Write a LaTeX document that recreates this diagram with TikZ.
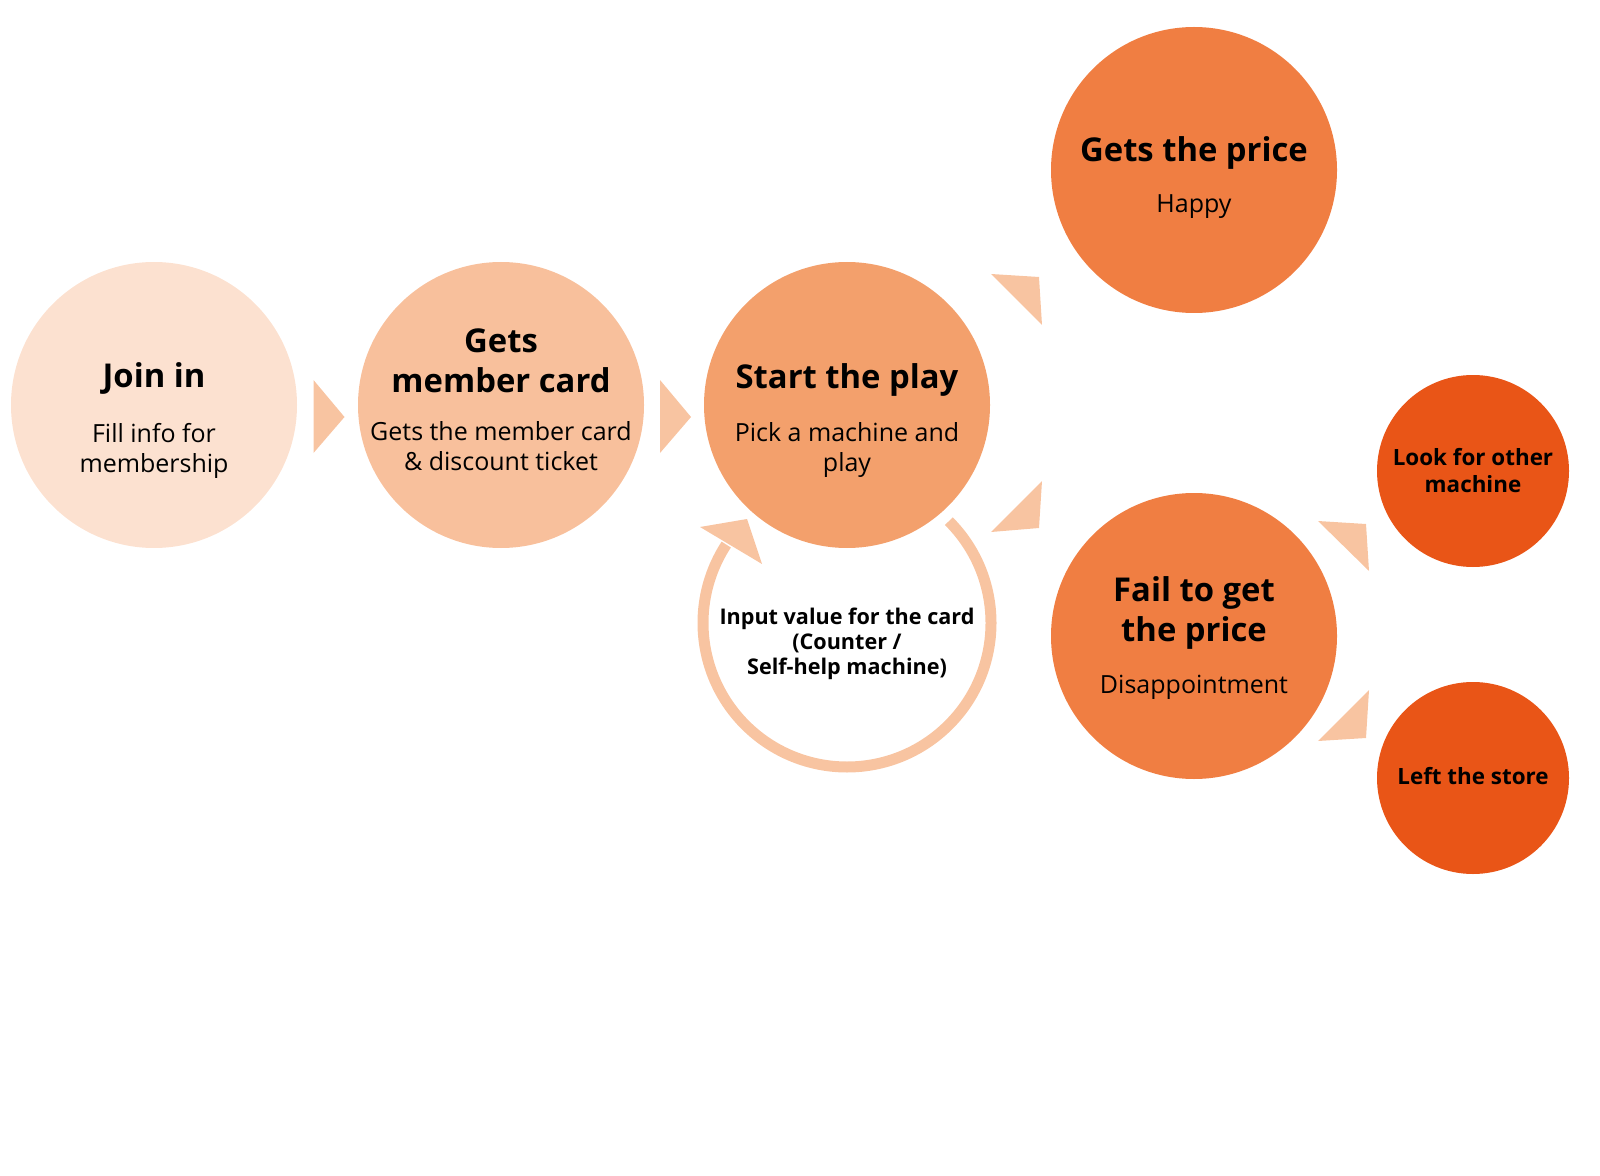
\documentclass[tikz,border=0pt]{standalone}
\usepackage{fontspec}
\setmainfont{Open Sans}
\usetikzlibrary{positioning, calc}

\definecolor{joinfill}{HTML}{FCE1D0}
\definecolor{cardfill}{HTML}{F8C09C}
\definecolor{playfill}{HTML}{F3A06C}
\definecolor{resultfill}{HTML}{F07E42}
\definecolor{nextfill}{HTML}{E95517}
\definecolor{arrowfill}{HTML}{F8C4A1}

\begin{document}
\begin{tikzpicture}[x=0.5pt, y=0.5pt,
    stage/.style={circle, inner sep=0pt, minimum size=143pt},
    substage/.style={circle, inner sep=0pt, minimum size=96pt, fill=nextfill},
    head/.style={font=\fontsize{16.4}{20}\selectfont\bfseries, align=center, anchor=base},
    body/.style={font=\fontsize{12.5}{15}\selectfont, align=center, anchor=base},
    subhead/.style={font=\fontsize{11.2}{13.5}\selectfont\bfseries, align=center, anchor=base},
    looptext/.style={font=\fontsize{10.8}{12.5}\selectfont\bfseries, align=center, anchor=base},
    pointer/.style={fill=arrowfill},
    loopline/.style={draw=arrowfill, line width=5.5pt}]
      \useasboundingbox (0,0) rectangle (1600,1175);

      % stages
      \node[stage, fill=joinfill] (join) at (154,770) {};
      \node[stage, fill=cardfill] (card) at (501,770) {};
      \node[stage, fill=playfill] (play) at (847,770) {};
      \node[stage, fill=resultfill] (win) at (1194,1005) {};
      \node[stage, fill=resultfill] (fail) at (1194,539) {};
      \node[substage] (look) at (1473,704) {};
      \node[substage] (leave) at (1473,397) {};

      % texts (base = last line)
      \node[head] (join head) at ($(join)+(0,18)$) {Join in};
      \node[body] (join body) at ($(join)+(0,-67)$) {Fill info for\\membership};
      \node[head] (card head) at ($(card)+(0,13)$) {Gets\\member card};
      \node[body] (card body) at ($(card)+(0,-65)$) {Gets the member card\\\& discount ticket};
      \node[head] (play head) at ($(play)+(0,17)$) {Start the play};
      \node[body] (play body) at ($(play)+(0,-66)$) {Pick a machine and\\play};
      \node[head] (win head) at ($(win)+(0,8)$) {Gets the price};
      \node[body] (win body) at ($(win)+(0,-43)$) {Happy};
      \node[head] (fail head) at ($(fail)+(0,-5)$) {Fail to get\\the price};
      \node[body] (fail body) at ($(fail)+(0,-57)$) {Disappointment};
      \node[subhead] (look head) at ($(look)+(0,-21)$) {Look for other\\machine};
      \node[subhead] (leave head) at ($(leave)+(0,-6)$) {Left the store};

      % arrows between stages
      \foreach \a/\b in {join/card, card/play}
        \fill[pointer] ($(\a)!0.5!(\b)+(-14,25)$) -- ++(31,-37) -- ++(-31,-36) -- cycle;
      \fill[pointer] ($(play)!0.5!(win)+(-29.5,13.5)$) -- ($(play)!0.5!(win)+(18.5,10.5)$) -- ($(play)!0.5!(win)+(21.5,-37.5)$) -- cycle;
      \fill[pointer] ($(play)!0.5!(fail)+(-29.5,-11.5)$) -- ($(play)!0.5!(fail)+(18.5,-7.5)$) -- ($(play)!0.5!(fail)+(21.5,39.5)$) -- cycle;
      \fill[pointer] ($(fail)!0.5!(look)+(-15.5,32.5)$) -- ($(fail)!0.5!(look)+(32.5,29.5)$) -- ($(fail)!0.5!(look)+(35.5,-17.5)$) -- cycle;
      \fill[pointer] ($(fail)!0.5!(leave)+(35.5,17)$) -- ($(fail)!0.5!(leave)+(32.5,-31)$) -- ($(fail)!0.5!(leave)+(-15.5,-34)$) -- cycle;

      % top-up loop under the play stage
      \coordinate (loop) at ($(play)+(0,-218)$);
      \draw[loopline] ($(loop)+(45:144)$) arc[start angle=45, end angle=-213, radius=144];
      \fill[pointer] ($(loop)+(-147,96)$) -- ($(loop)+(-100,104)$) -- ($(loop)+(-85,59)$) -- cycle;
      \node[looptext] (topup) at ($(loop)+(0,-51)$) {Input value for the card\\(Counter /\\Self-help machine)};
    \end{tikzpicture}
\end{document}
